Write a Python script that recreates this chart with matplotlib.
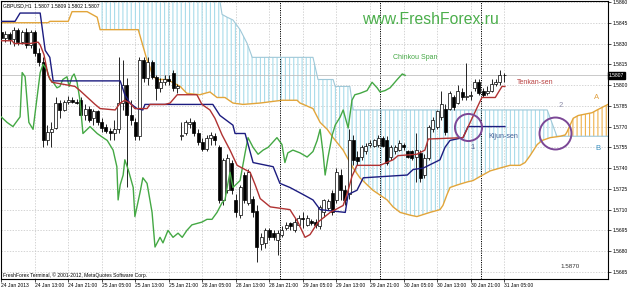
import numpy as np
import matplotlib
matplotlib.use("Agg")
import matplotlib.pyplot as plt
from matplotlib.transforms import blended_transform_factory

plt.rcParams['font.family'] = ['Liberation Sans', 'DejaVu Sans']
plt.rcParams['hatch.linewidth'] = 0.8

# ---------------- data ----------------
opens = [1.5838,1.5834,1.5837,1.5833,1.5840,1.5831,1.5838,1.5829,1.5838,1.5823,
         1.5817,1.5760,1.5766,1.5769,1.5787,1.5782,1.5788,1.5789,1.5788,1.5789,
         1.5778,1.5783,1.5776,1.5781,1.5773,1.5770,1.5767,1.5765,1.5768,1.5787,
         1.5800,1.5778,1.5773,1.5763,1.5818,1.5805,1.5817,1.5806,1.5798,1.5802,
         1.5804,1.5809,1.5798,1.5763,1.5765,1.5772,1.5773,1.5765,1.5759,1.5754,
         1.5762,1.5763,1.5755,1.5717,1.5724,1.5744,1.5717,1.5706,1.5735,1.5715,
         1.5718,1.5709,1.5685,1.5686,1.5695,1.5693,1.5688,1.5692,1.5697,1.5700,
         1.5695,1.5699,1.5704,1.5699,1.5702,1.5701,1.5698,1.5708,1.5711,1.5722,
         1.5717,1.5735,1.5724,1.5721,1.5760,1.5748,1.5748,1.5752,1.5757,1.5756,
         1.5757,1.5762,1.5760,1.5748,1.5752,1.5753,1.5757,1.5752,1.5752,1.5748,
         1.5751,1.5735,1.5747,1.5768,1.5770,1.5777,1.5783,1.5783,1.5791,1.5787,
         1.5795,1.5791,1.5792,1.5798,1.5802,1.5796,1.5794,1.5796,1.5801,1.5802,
         1.5807]
highs = [1.5841,1.5839,1.5838,1.5842,1.5841,1.5840,1.5841,1.5840,1.5840,1.5827,
         1.5820,1.5771,1.5773,1.5791,1.5789,1.5789,1.5792,1.5791,1.5790,1.5791,
         1.5786,1.5785,1.5783,1.5782,1.5776,1.5772,1.5769,1.5775,1.5820,1.5818,
         1.5805,1.5789,1.5776,1.5820,1.5820,1.5820,1.5818,1.5807,1.5805,1.5807,
         1.5807,1.5811,1.5801,1.5773,1.5775,1.5776,1.5775,1.5768,1.5762,1.5764,
         1.5766,1.5765,1.5757,1.5747,1.5750,1.5746,1.5721,1.5728,1.5737,1.5739,
         1.5720,1.5713,1.5693,1.5697,1.5697,1.5695,1.5695,1.5698,1.5701,1.5701,
         1.5704,1.5706,1.5708,1.5706,1.5703,1.5703,1.5713,1.5718,1.5718,1.5724,
         1.5740,1.5739,1.5728,1.5768,1.5764,1.5752,1.5757,1.5758,1.5760,1.5761,
         1.5764,1.5763,1.5763,1.5757,1.5757,1.5760,1.5758,1.5753,1.5753,1.5765,
         1.5753,1.5750,1.5771,1.5777,1.5782,1.5796,1.5786,1.5796,1.5793,1.5800,
         1.5798,1.5816,1.5796,1.5804,1.5804,1.5798,1.5799,1.5804,1.5804,1.5811,
         1.5809]
lows = [1.5832,1.5831,1.5830,1.5828,1.5829,1.5830,1.5827,1.5827,1.5821,1.5814,
        1.5755,1.5757,1.5755,1.5768,1.5776,1.5781,1.5786,1.5787,1.5786,1.5776,
        1.5775,1.5773,1.5771,1.5771,1.5766,1.5765,1.5760,1.5760,1.5765,1.5782,
        1.5726,1.5771,1.5760,1.5760,1.5802,1.5800,1.5804,1.5789,1.5795,1.5800,
        1.5800,1.5796,1.5794,1.5760,1.5764,1.5769,1.5763,1.5757,1.5752,1.5752,
        1.5757,1.5757,1.5715,1.5713,1.5722,1.5721,1.5705,1.5704,1.5715,1.5713,
        1.5705,1.5672,1.5681,1.5682,1.5688,1.5688,1.5677,1.5690,1.5695,1.5695,
        1.5694,1.5698,1.5697,1.5698,1.5699,1.5697,1.5696,1.5705,1.5710,1.5706,
        1.5715,1.5717,1.5713,1.5718,1.5742,1.5742,1.5746,1.5750,1.5755,1.5755,
        1.5755,1.5755,1.5742,1.5746,1.5750,1.5752,1.5753,1.5747,1.5746,1.5730,
        1.5730,1.5733,1.5746,1.5766,1.5768,1.5775,1.5764,1.5782,1.5782,1.5786,
        1.5789,1.5789,1.5789,1.5796,1.5793,1.5791,1.5793,1.5795,1.5799,1.5800,
        1.5802]
closes = [1.5834,1.5837,1.5833,1.5840,1.5831,1.5838,1.5829,1.5838,1.5823,1.5817,
          1.5760,1.5766,1.5768,1.5787,1.5782,1.5788,1.5789,1.5788,1.5787,1.5778,
          1.5783,1.5775,1.5781,1.5773,1.5769,1.5767,1.5765,1.5768,1.5787,1.5800,
          1.5778,1.5775,1.5763,1.5818,1.5805,1.5817,1.5806,1.5798,1.5802,1.5804,
          1.5803,1.5798,1.5799,1.5764,1.5773,1.5773,1.5765,1.5759,1.5754,1.5762,
          1.5764,1.5760,1.5717,1.5746,1.5747,1.5724,1.5708,1.5726,1.5717,1.5737,
          1.5708,1.5683,1.5690,1.5695,1.5690,1.5690,1.5693,1.5695,1.5699,1.5698,
          1.5701,1.5704,1.5703,1.5704,1.5700,1.5699,1.5712,1.5717,1.5716,1.5708,
          1.5737,1.5724,1.5717,1.5760,1.5746,1.5745,1.5755,1.5756,1.5758,1.5760,
          1.5762,1.5756,1.5744,1.5755,1.5755,1.5758,1.5755,1.5748,1.5747,1.5753,
          1.5733,1.5747,1.5770,1.5775,1.5781,1.5786,1.5766,1.5794,1.5784,1.5796,
          1.5791,1.5792,1.5793,1.5802,1.5794,1.5793,1.5796,1.5801,1.5802,1.5807,
          1.5807]

tenkan_bar = [0,2.6,3.1,6.9,8.8,9.3,10.2,11.2,12.1,14.0,17.6,18.8,22.4,23.6,27.2,28.4,29.5,30.7,31.9,34.8,
              35.5,39.1,40.3,42.0,46.7,47.9,49.8,51.0,52.7,54.6,56.3,59.4,60.6,61.8,64.2,68.9,70.8,72.5,73.7,75.6,
              78.5,81.6,82.8,83.7,84.9,90.4,93.5,94.7,99.2,101.1,101.9,110.2,111.9,114.7,117.9,119.5,120.2]
tenkan_val = [1.5832,1.5832,1.5830,1.5830,1.5831,1.5829,1.5822,1.5807,1.5802,1.5801,1.5799,1.5796,1.5786,1.5783,1.5782,1.5787,1.5789,1.5787,1.5783,1.5783,
              1.5786,1.5786,1.5787,1.5793,1.5793,1.5786,1.5782,1.5776,1.5764,1.5753,1.5742,1.5737,1.5728,1.5718,1.5712,1.5710,1.5701,1.5690,1.5692,1.5701,
              1.5708,1.5713,1.5724,1.5734,1.5742,1.5742,1.5746,1.5749,1.5750,1.5753,1.5761,1.5762,1.5773,1.5791,1.5791,1.5799,1.5799]

kijun_bar = [0,3.3,4.5,9.3,10.5,11.6,12.4,28.4,29.5,30.7,32.4,33.8,34.3,50.5,52.2,55.3,55.8,58.2,60.1,64.9,
             66.5,68.9,72.0,74.4,76.1,82.1,82.8,84.9,86.4,96.9,98.3,100.7,104.7,105.9,107.1,110.2,111.4,120.2]
kijun_val = [1.5846,1.5846,1.5852,1.5852,1.5825,1.5820,1.5803,1.5803,1.5793,1.5787,1.5783,1.5782,1.5786,1.5786,1.5778,1.5771,1.5765,1.5765,1.5744,1.5741,
             1.5729,1.5726,1.5721,1.5717,1.5710,1.5708,1.5721,1.5724,1.5733,1.5735,1.5739,1.5740,1.5746,1.5755,1.5760,1.5762,1.5770,1.5770]

chikou_bar = [0,1.4,2.8,4.5,5.0,5.7,6.6,7.6,9.3,10.0,10.9,11.6,12.4,13.3,14.0,14.7,15.7,16.2,16.9,17.4,
              18.1,18.8,19.5,21.2,22.9,24.3,25.3,26.7,27.6,27.9,28.4,29.1,29.5,30.3,31.5,31.9,33.1,33.8,34.8,36.0,
              36.7,37.9,38.6,39.8,41.0,42.2,43.2,44.3,45.5,46.7,47.9,49.1,50.3,51.5,52.7,53.4,54.1,54.6,55.3,57.0,
              58.2,58.9,60.1,61.3,62.5,63.7,64.9,65.8,67.0,67.7,68.4,69.6,71.3,73.0,74.4,75.4,76.1,76.8,77.3,78.0,
              79.0,79.7,80.9,81.6,82.8,83.7,84.4,85.6,87.3,88.5,89.7,90.4,91.6,92.8,94.5,95.7,96.4]
chikou_val = [1.5777,1.5773,1.5770,1.5777,1.5809,1.5806,1.5773,1.5768,1.5809,1.5815,1.5811,1.5804,1.5802,1.5798,1.5799,1.5804,1.5806,1.5799,1.5806,1.5808,
              1.5802,1.5789,1.5765,1.5770,1.5765,1.5762,1.5760,1.5753,1.5741,1.5717,1.5728,1.5735,1.5746,1.5739,1.5726,1.5705,1.5722,1.5733,1.5729,1.5708,
              1.5683,1.5690,1.5686,1.5695,1.5690,1.5693,1.5690,1.5695,1.5699,1.5700,1.5701,1.5703,1.5703,1.5708,1.5715,1.5717,1.5729,1.5737,1.5726,1.5731,
              1.5751,1.5762,1.5755,1.5750,1.5753,1.5755,1.5759,1.5762,1.5757,1.5744,1.5751,1.5753,1.5751,1.5748,1.5752,1.5760,1.5768,1.5751,1.5735,1.5748,
              1.5764,1.5771,1.5777,1.5782,1.5769,1.5789,1.5793,1.5794,1.5796,1.5802,1.5798,1.5795,1.5796,1.5798,1.5804,1.5808,1.5807]

spanA_bar = [0,11.2,11.6,16.0,16.9,20.5,22.9,23.6,32.7,34.8,35.5,36.2,37.4,39.6,42.7,44.3,47.4,49.8,51.5,53.4,
             55.3,57.7,61.8,67.0,70.6,71.3,74.4,76.1,77.8,79.2,81.6,82.5,84.0,85.6,87.3,88.7,92.1,93.5,95.2,97.6,
             99.2,102.3,104.7,105.4,106.4,107.1,109.0,111.2,112.6,114.3,116.7,119.0,121.4,123.8,125.0,126.2,127.9,129.1,131.0,133.4,
             134.6,135.0,136.5,137.7,141.0,142.2,144.8]
spanA_val = [1.5845,1.5845,1.5846,1.5846,1.5853,1.5853,1.5849,1.5840,1.5840,1.5818,1.5813,1.5806,1.5804,1.5804,1.5799,1.5794,1.5793,1.5795,1.5791,1.5791,
             1.5787,1.5786,1.5787,1.5789,1.5789,1.5787,1.5783,1.5773,1.5768,1.5762,1.5753,1.5748,1.5740,1.5733,1.5728,1.5724,1.5717,1.5712,1.5708,1.5706,
             1.5705,1.5708,1.5710,1.5713,1.5721,1.5726,1.5728,1.5730,1.5731,1.5734,1.5738,1.5740,1.5742,1.5742,1.5744,1.5749,1.5757,1.5760,1.5762,1.5763,
             1.5764,1.5766,1.5776,1.5778,1.5780,1.5782,1.5786]

spanB_bar = [23.6,51.7,52.7,53.9,55.3,57.0,58.7,59.9,74.4,75.6,79.2,79.7,83.2,84.0,130.3,132.6,144.8]
spanB_val = [1.5870,1.5870,1.5851,1.5849,1.5847,1.5840,1.5830,1.5820,1.5820,1.5804,1.5804,1.5799,1.5799,1.5782,1.5782,1.5763,1.5763]

date_ticks = list(range(0, 121, 8))
date_labels = ["24 Jan 2013", "24 Jan 13:00", "24 Jan 21:00", "25 Jan 05:00", "25 Jan 13:00",
               "25 Jan 21:00", "28 Jan 05:00", "28 Jan 13:00", "28 Jan 21:00", "29 Jan 05:00",
               "29 Jan 13:00", "29 Jan 21:00", "30 Jan 05:00", "30 Jan 13:00", "30 Jan 21:00",
               "31 Jan 05:00"]
price_ticks = [1.5665, 1.5680, 1.5695, 1.5710, 1.5725, 1.5740, 1.5755, 1.5770,
               1.5785, 1.5800, 1.5815, 1.5830, 1.5845, 1.5860]
day_separators = [66.5, 90.5, 114.5]
last_price = 1.5807

# ---------------- figure ----------------
W, H = 629, 288
fig = plt.figure(figsize=(W / 100, H / 100), dpi=100)
ax = fig.add_axes([1 / W, 9 / H, 607 / W, 278 / H])
ax.set_xlim(-0.05, 144.8)
ax.set_ylim(1.56599, 1.58607)

C_TENKAN = '#b03232'
C_KIJUN = '#1c1c80'
C_CHIKOU = '#44a844'
C_SPANA = '#e2a53a'
C_CLOUD = '#a9dcea'

# cloud hatching
xs = np.arange(23.6, 144.85, 0.05)
a_i = np.interp(xs, spanA_bar, spanA_val)
b_i = np.interp(xs, spanB_bar, spanB_val)
ax.fill_between(xs, a_i, b_i, where=b_i >= a_i, interpolate=True, hatch='||||',
                facecolor='none', edgecolor=C_CLOUD, linewidth=0, zorder=1)
ax.fill_between(xs, a_i, b_i, where=a_i > b_i, interpolate=True, hatch='||||',
                facecolor='none', edgecolor='#efb14a', linewidth=0, zorder=1)
ax.plot(spanB_bar, spanB_val, color='#9fc8d8', lw=0.8, zorder=2)
ax.plot(spanA_bar, spanA_val, color=C_SPANA, lw=1.0, zorder=2)

# grid
ax.set_axisbelow(True)
ax.grid(True, color='#c4c4c4', linestyle=(0, (2, 2)), lw=0.5)
for d in day_separators:
    ax.axvline(d, color='black', linestyle=(0, (1.2, 1.2)), lw=0.7, zorder=1.5)
ax.axhline(last_price, color='#c0c0c0', lw=0.6, zorder=1.5)

# candles
o = np.array(opens); h = np.array(highs); l = np.array(lows); c = np.array(closes)
idx = np.arange(len(o))
ax.vlines(idx, l, h, color='black', lw=0.6, zorder=3)
bull = c >= o
body_b = np.minimum(o, c)
body_h = np.maximum(np.abs(c - o), 0.00004)
ax.bar(idx[bull], body_h[bull], bottom=body_b[bull], width=0.72, color='white',
       edgecolor='black', linewidth=0.5, zorder=3.5)
ax.bar(idx[~bull], body_h[~bull], bottom=body_b[~bull], width=0.72, color='black',
       edgecolor='black', linewidth=0.5, zorder=3.5)

# indicator lines
ax.plot(chikou_bar, chikou_val, color=C_CHIKOU, lw=1.0, zorder=4)
ax.plot(kijun_bar, kijun_val, color=C_KIJUN, lw=1.0, zorder=4)
ax.plot(tenkan_bar, tenkan_val, color=C_TENKAN, lw=1.0, zorder=4)

# circles
ax.plot([111.4], [1.5770], marker='o', ms=19.5, mfc='none', mec='#7b4796', mew=1.4, zorder=5)
ax.plot([132.2], [1.5765], marker='o', ms=23, mfc='none', mec='#7b4796', mew=1.4, zorder=5)

# annotations
small = 3.6
ax.text(93.5, 1.5820, 'Chinkou Span', color=C_CHIKOU, fontsize=5, va='center', ha='left', zorder=6)
ax.text(123.1, 1.5802, 'Tenkan-sen', color='#b84040', fontsize=5, va='center', ha='left', zorder=6)
ax.text(116.2, 1.5763, 'Kijun-sen', color='#3d5d95', fontsize=5, va='center', ha='left', zorder=6)
ax.text(112.4, 1.5755, '1', color='#5a6a9a', fontsize=5.5, va='center', ha='center', zorder=6)
ax.text(133.4, 1.5785, '2', color='#8c8ca8', fontsize=5.5, va='center', ha='center', zorder=6)
ax.text(142.0, 1.5791, 'A', color='#e0a040', fontsize=5.5, va='center', ha='center', zorder=6)
ax.text(142.4, 1.5754, 'B', color='#3a90c0', fontsize=5.5, va='center', ha='center', zorder=6)
ax.text(133.5, 1.5669, '1.5870', color='#333333', fontsize=4.5, va='center', ha='left', zorder=6)

fig.text(362 / W, 1 - 20 / H, 'www.FreshForex.ru', color='#4cae4c', fontsize=11.3,
         va='center', ha='left', zorder=10)
fig.text(3 / W, 1 - 5.5 / H, 'GBPUSD,H1  1.5807 1.5809 1.5802 1.5807', color='black',
         fontsize=small, va='center', ha='left', zorder=10)
fig.text(3 / W, 1 - 275 / H, 'FreshForex Terminal, \u00a9 2001-2012, MetaQuotes Software Corp.',
         color='black', fontsize=small, va='center', ha='left', zorder=10)

# axes ticks
ax.set_xticks(date_ticks)
ax.set_xticklabels(date_labels)
for t in ax.get_xticklabels():
    t.set_ha('left')
ax.tick_params(axis='x', labelsize=small, length=2, pad=1, width=0.5)
ax.yaxis.tick_right()
ax.set_yticks(price_ticks)
ax.set_yticklabels([f'{p:.4f}' for p in price_ticks])
ax.tick_params(axis='y', labelsize=small, length=2, pad=1, width=0.5)

tr = blended_transform_factory(ax.transAxes, ax.transData)
ax.text(1.0015, last_price, f'{last_price:.4f}', transform=tr, color='white', fontsize=small,
        va='center', ha='left', zorder=10,
        bbox=dict(boxstyle='square,pad=0.15', facecolor='black', edgecolor='black'), clip_on=False)

for s in ax.spines.values():
    s.set_color('black')
    s.set_linewidth(0.8)

fig.savefig('out.png', dpi=100)
